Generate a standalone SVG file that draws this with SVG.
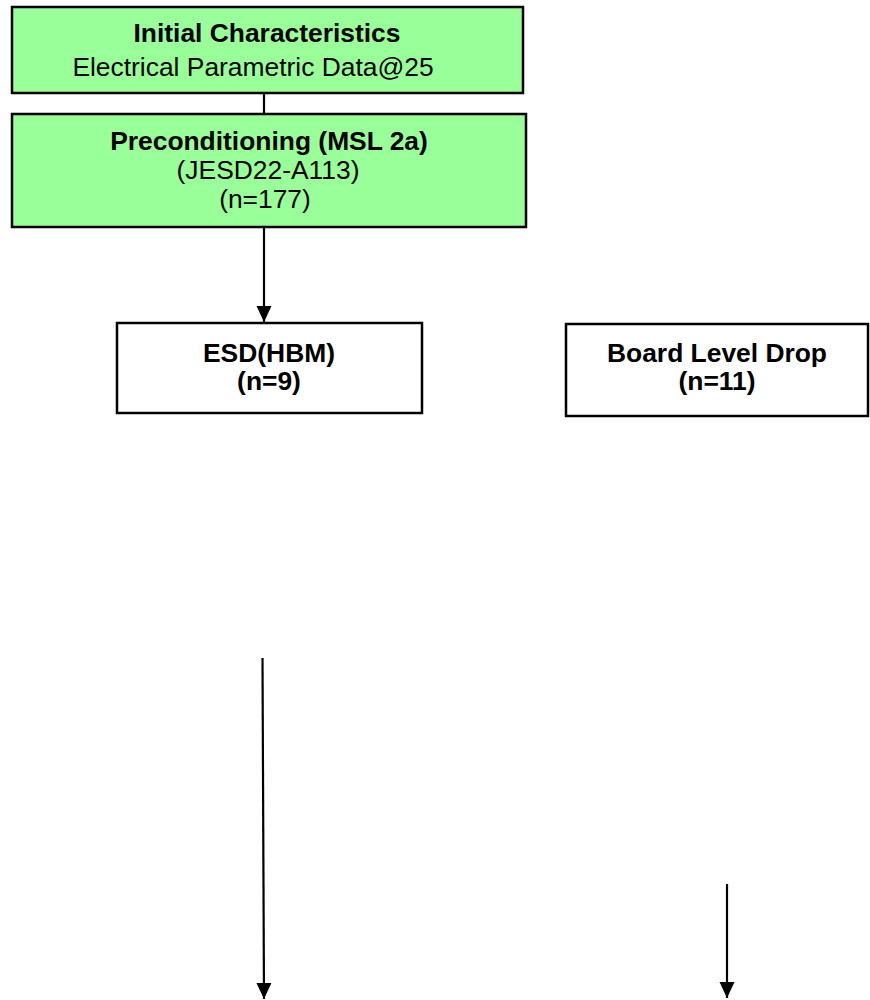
<svg xmlns="http://www.w3.org/2000/svg" width="870" height="1000" viewBox="0 0 870 1000">
<style>
.green{fill:#99FF99;stroke:#000;stroke-width:2.5}
.white{fill:#fff;stroke:#000;stroke-width:2.5}
.t{font-family:"Liberation Sans",Arial,sans-serif;font-size:26.4px;fill:#000;text-anchor:middle}
.b{font-weight:bold}
.c{stroke:#000;stroke-width:2.2;fill:none}
</style>
<defs>
<marker id="ah" markerUnits="userSpaceOnUse" markerWidth="16" markerHeight="16" viewBox="0 0 16 16" refX="16" refY="8" orient="auto">
<path d="M0,0.5 L16,8 L0,15.5 Z" fill="#000"/>
</marker>
</defs>
<rect width="870" height="1000" fill="#fff"/>
<g id="connectors">
<line class="c" x1="264" y1="93" x2="264" y2="114"/>
<line class="c" x1="264" y1="227" x2="264" y2="322" marker-end="url(#ah)"/>
<line class="c" x1="262.5" y1="658" x2="264" y2="999" marker-end="url(#ah)"/>
<line class="c" x1="727" y1="884" x2="727" y2="998" marker-end="url(#ah)"/>
</g>
<g id="initial">
<rect class="green" x="12" y="7" width="511" height="86"/>
<text class="t b" x="267" y="42">Initial Characteristics</text>
<text class="t" x="253" y="76">Electrical Parametric Data@25</text>
</g>
<g id="precond">
<rect class="green" x="12" y="114" width="514" height="113"/>
<text class="t b" x="269" y="150">Preconditioning (MSL 2a)</text>
<text class="t" x="268" y="179">(JESD22-A113)</text>
<text class="t" x="265" y="208">(n=177)</text>
</g>
<g id="esd">
<rect class="white" x="117" y="323" width="305" height="90"/>
<text class="t b" x="269" y="362">ESD(HBM)</text>
<text class="t b" x="269" y="390">(n=9)</text>
</g>
<g id="bld">
<rect class="white" x="566" y="324" width="302" height="92"/>
<text class="t b" x="717" y="362">Board Level Drop</text>
<text class="t b" x="717" y="390">(n=11)</text>
</g>
</svg>
